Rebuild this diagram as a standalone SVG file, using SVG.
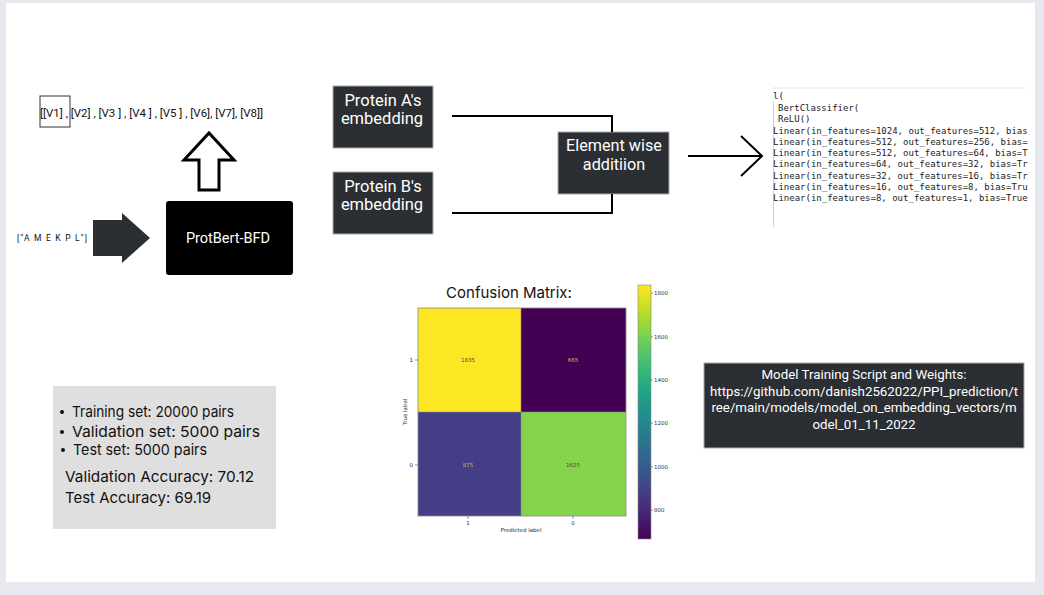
<svg xmlns="http://www.w3.org/2000/svg" width="1044" height="595" viewBox="0 0 1044 595">
<defs>
<style>
.dark{fill:#2b2f33;stroke:#a9abae;stroke-width:1}
.wt{fill:#ffffff;font-family:Roboto,"Liberation Sans",sans-serif;text-anchor:middle}
.code{font-family:"DejaVu Sans Mono",monospace;font-size:9px;fill:#222}
.stat{font-family:Inter,"Liberation Sans",sans-serif;font-size:15px;fill:#111}
.tk{font-family:"DejaVu Sans",sans-serif;font-size:5.5px;fill:#333}
.cell{font-family:"DejaVu Sans",sans-serif;font-size:5.5px;text-anchor:middle}
.ln{fill:none;stroke:#000;stroke-width:2}
</style>
<linearGradient id="viridis" x1="0" y1="1" x2="0" y2="0">
<stop offset="0" stop-color="#440154"/>
<stop offset="0.1" stop-color="#482475"/>
<stop offset="0.2" stop-color="#414487"/>
<stop offset="0.3" stop-color="#355f8d"/>
<stop offset="0.4" stop-color="#2a788e"/>
<stop offset="0.5" stop-color="#21918c"/>
<stop offset="0.6" stop-color="#22a884"/>
<stop offset="0.7" stop-color="#44bf70"/>
<stop offset="0.8" stop-color="#7ad151"/>
<stop offset="0.9" stop-color="#bddf26"/>
<stop offset="1" stop-color="#fde725"/>
</linearGradient>
</defs>
<rect x="0" y="0" width="1044" height="595" fill="#e8e9ee"/>
<rect x="6" y="3" width="1029" height="579" fill="#ffffff"/>

<g id="vectors">
<rect x="40" y="96" width="30" height="31" fill="none" stroke="#333" stroke-width="1"/>
<text x="40" y="117" font-family="Roboto,'Liberation Sans',sans-serif" font-size="11" fill="#111" textLength="223" lengthAdjust="spacingAndGlyphs">[[V1] , [V2] , [V3 ] , [V4 ] , [V5 ] , [V6], [V7], [V8]]</text>
</g>

<g id="input">
<text x="17" y="241" font-family="Roboto,'Liberation Sans',sans-serif" font-size="8.5" fill="#111" textLength="70" lengthAdjust="spacing">["A  M E K P L"]</text>
</g>

<g id="protbert">
<rect x="166" y="201" width="127" height="74" rx="3" fill="#000"/>
<text class="wt" x="228" y="243" font-size="14.5">ProtBert-BFD</text>
</g>

<g id="protA">
<rect class="dark" x="333" y="86" width="100" height="62"/>
<text class="wt" x="383" y="106" font-size="16.5">Protein A's</text>
<text class="wt" x="382" y="124" font-size="16.5">embedding</text>
</g>

<g id="protB">
<rect class="dark" x="333" y="172" width="100" height="62"/>
<text class="wt" x="383" y="192" font-size="16.5">Protein B's</text>
<text class="wt" x="382" y="210" font-size="16.5">embedding</text>
</g>

<g id="addition">
<rect class="dark" x="558" y="132" width="111" height="62"/>
<text class="wt" x="614" y="151" font-size="16.2">Element wise</text>
<text class="wt" x="614" y="170" font-size="16.2">additiion</text>
</g>

<g id="classifier">
<line x1="773" y1="88" x2="1026" y2="88" stroke="#e3e3e3" stroke-width="1"/>
<line x1="773.5" y1="102" x2="773.5" y2="227" stroke="#cfcfcf" stroke-width="1"/>
<g class="code">
<text x="773" y="99">l(</text>
<text x="778" y="111">BertClassifier(</text>
<text x="778" y="122">ReLU()</text>
<text x="773" y="134">Linear(in_features=1024, out_features=512, bias</text>
<text x="773" y="145">Linear(in_features=512, out_features=256, bias=</text>
<text x="773" y="156">Linear(in_features=512, out_features=64, bias=T</text>
<text x="773" y="167">Linear(in_features=64, out_features=32, bias=Tr</text>
<text x="773" y="179">Linear(in_features=32, out_features=16, bias=Tr</text>
<text x="773" y="190">Linear(in_features=16, out_features=8, bias=Tru</text>
<text x="773" y="201">Linear(in_features=8, out_features=1, bias=True</text>
</g>
</g>

<g id="confusion">
<text x="509" y="298" font-family="Inter,'Liberation Sans',sans-serif" font-size="15" fill="#111" text-anchor="middle">Confusion Matrix:</text>
<rect x="418" y="308" width="103" height="104" fill="#fde725"/>
<rect x="521" y="308" width="105" height="104" fill="#440154"/>
<rect x="418" y="412" width="103" height="104" fill="#433e85"/>
<rect x="521" y="412" width="105" height="104" fill="#84d44b"/>
<rect x="418" y="308" width="208" height="208" fill="none" stroke="#888" stroke-width="0.8"/>
<line x1="521" y1="308" x2="521" y2="516" stroke="#888" stroke-width="0.6"/>
<line x1="418" y1="412" x2="626" y2="412" stroke="#888" stroke-width="0.6"/>
<text class="cell" x="468" y="362" fill="#5a3d2a">1835</text>
<text class="cell" x="573" y="362" fill="#c9b84a">665</text>
<text class="cell" x="468" y="467" fill="#c9b84a">875</text>
<text class="cell" x="573" y="467" fill="#5a4a2a">1625</text>
<line x1="415" y1="360" x2="418" y2="360" stroke="#333" stroke-width="0.5"/>
<line x1="415" y1="465" x2="418" y2="465" stroke="#333" stroke-width="0.5"/>
<text class="tk" x="413" y="362" text-anchor="end">1</text>
<text class="tk" x="413" y="467" text-anchor="end">0</text>
<line x1="468" y1="516" x2="468" y2="519" stroke="#333" stroke-width="0.5"/>
<line x1="573" y1="516" x2="573" y2="519" stroke="#333" stroke-width="0.5"/>
<text class="tk" x="468" y="525" text-anchor="middle">1</text>
<text class="tk" x="573" y="525" text-anchor="middle">0</text>
<text class="tk" x="521" y="532" text-anchor="middle">Predicted label</text>
<text class="tk" transform="translate(407,412) rotate(-90)" text-anchor="middle">True label</text>
<rect x="638" y="285" width="13" height="254" fill="url(#viridis)" stroke="#888" stroke-width="0.6"/>
<g stroke="#333" stroke-width="0.5">
<line x1="651" y1="293" x2="653" y2="293"/>
<line x1="651" y1="337" x2="653" y2="337"/>
<line x1="651" y1="380" x2="653" y2="380"/>
<line x1="651" y1="423" x2="653" y2="423"/>
<line x1="651" y1="467" x2="653" y2="467"/>
<line x1="651" y1="510" x2="653" y2="510"/>
</g>
<text class="tk" x="654" y="295">1800</text>
<text class="tk" x="654" y="339">1600</text>
<text class="tk" x="654" y="382">1400</text>
<text class="tk" x="654" y="425">1200</text>
<text class="tk" x="654" y="469">1000</text>
<text class="tk" x="654" y="512">800</text>
</g>

<g id="stats">
<rect x="53" y="386" width="223" height="143" fill="#dfdfdf"/>
<circle cx="62" cy="412" r="2" fill="#111"/>
<circle cx="62" cy="432" r="2" fill="#111"/>
<circle cx="63" cy="450" r="2" fill="#111"/>
<text class="stat" x="72" y="417" textLength="162" lengthAdjust="spacingAndGlyphs">Training set: 20000 pairs</text>
<text class="stat" x="72" y="437" textLength="188" lengthAdjust="spacingAndGlyphs">Validation set: 5000 pairs</text>
<text class="stat" x="73" y="455" textLength="134" lengthAdjust="spacingAndGlyphs">Test set: 5000 pairs</text>
<text class="stat" x="65" y="482" textLength="189" lengthAdjust="spacingAndGlyphs">Validation Accuracy: 70.12</text>
<text class="stat" x="65" y="503" textLength="146" lengthAdjust="spacingAndGlyphs">Test Accuracy: 69.19</text>
</g>

<g id="link">
<rect class="dark" x="704" y="363" width="320" height="85"/>
<text class="wt" x="864" y="379" font-size="13.3">Model Training Script and Weights:</text>
<text class="wt" x="864" y="396" font-size="13.3">https://github.com/danish2562022/PPI_prediction/t</text>
<text class="wt" x="864" y="412" font-size="13.3">ree/main/models/model_on_embedding_vectors/m</text>
<text class="wt" x="864" y="429" font-size="13.3">odel_01_11_2022</text>
</g>

<g id="connectors">
<path d="M199,190 V160 H184 L209,133 L234,160 H219 V190 Z" fill="#fff" stroke="#000" stroke-width="3" stroke-linejoin="miter"/>
<path d="M93,220 H122 V213 L150,238 L122,263 V256 H93 Z" fill="#2b2e33"/>
<path class="ln" d="M452,116 H612 V132"/>
<path class="ln" d="M452,213 H612 V194"/>
<path class="ln" d="M688,156 H762"/>
<path class="ln" d="M741,136 L762,156 L741,176"/>
</g>
</svg>
